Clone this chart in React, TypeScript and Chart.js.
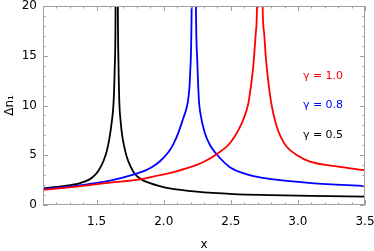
import React, { useEffect, useRef } from "react";
import { Chart, registerables } from "chart.js";

Chart.register(...registerables);

// gamma = 0.5 (black)
const blackX = [1.10, 1.25, 1.376, 1.45, 1.49, 1.52, 1.55, 1.575, 1.595, 1.612, 1.626, 1.634, 1.641, 1.6495, 1.658, 1.663, 1.669, 1.678, 1.69, 1.705, 1.724, 1.755, 1.786, 1.83, 1.897, 1.97, 2.034, 2.245, 2.52, 2.79, 3.1, 3.5];
const blackY = [1.68, 1.9, 2.2, 2.6, 3.05, 3.6, 4.4, 5.4, 6.7, 8.3, 10.3, 13.5, 20, 60, 20, 14, 10.3, 8.5, 7.0, 5.9, 4.85, 3.8, 3.1, 2.6, 2.2, 1.9, 1.7, 1.34, 1.1, 1.0, 0.92, 0.84];

// gamma = 0.8 (blue)
const blueX = [1.10, 1.326, 1.6, 1.786, 1.86, 1.922, 1.972, 2.034, 2.071, 2.11, 2.145, 2.171, 2.183, 2.196, 2.208, 2.224, 2.240, 2.25, 2.262, 2.272, 2.307, 2.35, 2.394, 2.493, 2.642, 2.79, 3.1, 3.5];
const blueY = [1.61, 1.9, 2.45, 3.1, 3.45, 3.9, 4.4, 5.3, 6.1, 7.3, 8.7, 9.8, 10.7, 13, 20, 60, 20, 14.5, 10.55, 9.3, 7.2, 5.9, 5.1, 3.8, 3.0, 2.62, 2.2, 1.9];

// gamma = 1.0 (red)
const redX = [1.10, 1.35, 1.6, 1.823, 1.972, 2.034, 2.22, 2.3, 2.394, 2.493, 2.581, 2.618, 2.635, 2.667, 2.686, 2.695, 2.716, 2.737, 2.748, 2.760, 2.775, 2.797, 2.815, 2.841, 2.87, 2.916, 3.0, 3.09, 3.3, 3.5];
const redY = [1.51, 1.85, 2.25, 2.58, 3.0, 3.17, 3.9, 4.35, 5.1, 6.2, 8.2, 9.55, 10.55, 13.9, 17.3, 20, 60, 20, 17.3, 15, 12.9, 10.6, 9.3, 7.95, 6.9, 5.86, 4.95, 4.35, 3.85, 3.5];

const xTicks = [1.5, 2.0, 2.5, 3.0, 3.5];
const yTicks = [0, 5, 10, 15, 20];
const legendLabels = ["γ = 1.0", "γ = 0.8", "γ = 0.5"];
const legendY = [13, 10, 7];
const legendXPos = 3.037;

const FONT = "'DejaVu Sans', sans-serif";
const FRAME = "#a0a0a0";

const framePlugin = {
  id: "frame",
  afterDraw(chart: any) {
    const { ctx, chartArea: a, scales } = chart;
    const xs = scales.x;
    const ys = scales.y;
    ctx.save();
    ctx.strokeStyle = FRAME;
    ctx.lineWidth = 1;
    ctx.beginPath();
    for (let i = 11; i <= 35; i++) {
      const v = i / 10;
      const major = i % 5 === 0;
      const len = major ? 5 : 2.5;
      const px = Math.round(xs.getPixelForValue(v)) + 0.5;
      ctx.moveTo(px, a.bottom);
      ctx.lineTo(px, a.bottom - len);
      ctx.moveTo(px, a.top);
      ctx.lineTo(px, a.top + len);
    }
    for (let i = 0; i <= 20; i++) {
      const major = i % 5 === 0;
      const len = major ? 5 : 2.5;
      const py = Math.round(ys.getPixelForValue(i)) + 0.5;
      ctx.moveTo(a.left, py);
      ctx.lineTo(a.left + len, py);
      ctx.moveTo(a.right, py);
      ctx.lineTo(a.right - len, py);
    }
    ctx.stroke();
    ctx.strokeRect(Math.round(a.left) + 0.5, Math.round(a.top) + 0.5, Math.round(a.right - a.left) - 1, Math.round(a.bottom - a.top) - 1);
    const colors = ["#ff0000", "#0000ff", "#000000"];
    ctx.font = `11px ${FONT}`;
    ctx.textAlign = "left";
    ctx.textBaseline = "middle";
    legendLabels.forEach((t, i) => {
      ctx.fillStyle = colors[i];
      ctx.fillText(t, xs.getPixelForValue(legendXPos), ys.getPixelForValue(legendY[i]));
    });
    ctx.restore();
  },
};

function toPts(xs: number[], ys: number[]) {
  return xs.map((x, i) => ({ x, y: ys[i] }));
}

export default function App() {
  const ref = useRef<HTMLCanvasElement>(null);
  useEffect(() => {
    document.body.style.margin = "0";
    const mk = (label: string, xs: number[], ys: number[], color: string) => ({
      label,
      data: toPts(xs, ys),
      borderColor: color,
      backgroundColor: color,
      borderWidth: 1.8,
      pointRadius: 0,
      cubicInterpolationMode: "monotone" as const,
      clip: 0,
    });
    const chart = new Chart(ref.current!, {
      type: "line",
      data: {
        datasets: [
          mk("γ = 1.0", redX, redY, "#ff0000"),
          mk("γ = 0.8", blueX, blueY, "#0000ff"),
          mk("γ = 0.5", blackX, blackY, "#000000"),
        ],
      },
      options: {
        animation: false,
        responsive: false,
        devicePixelRatio: 1,
        layout: { padding: { top: 6, right: 9, left: 0, bottom: 0 } },
        plugins: { legend: { display: false }, tooltip: { enabled: false } },
        scales: {
          x: {
            type: "linear",
            min: 1.1,
            max: 3.5,
            afterBuildTicks: (s: any) => {
              s.ticks = xTicks.map((v) => ({ value: v }));
            },
            afterFit: (s: any) => {
              s.height = 46;
              s.paddingLeft = 0;
              s.paddingRight = 0;
            },
            grid: { display: false, drawTicks: false },
            border: { display: false },
            ticks: {
              color: "#000",
              font: { family: FONT, size: 12 },
              padding: 10,
              maxRotation: 0,
              autoSkip: false,
              callback: (v: any) => Number(v).toFixed(1),
            },
            title: { display: true, text: "x", color: "#000", font: { family: FONT, size: 12, lineHeight: 1 }, padding: { top: 0, bottom: 0 } },
          },
          y: {
            type: "linear",
            min: 0,
            max: 20,
            afterBuildTicks: (s: any) => {
              s.ticks = yTicks.map((v) => ({ value: v }));
            },
            afterFit: (s: any) => {
              s.width = 43;
              s.paddingTop = 0;
              s.paddingBottom = 0;
            },
            grid: { display: false, drawTicks: false },
            border: { display: false },
            ticks: {
              color: "#000",
              font: { family: FONT, size: 12 },
              padding: 6,
              autoSkip: false,
              callback: (v: any) => String(v),
            },
            title: { display: true, text: "Δn₁", color: "#000", font: { family: FONT, size: 12 }, padding: { top: 3, bottom: 0 } },
          },
        },
      },
      plugins: [framePlugin],
    });
    return () => chart.destroy();
  }, []);
  return (
    <div style={{ width: 374, height: 251 }}>
      <canvas ref={ref} width={374} height={251} />
    </div>
  );
}
